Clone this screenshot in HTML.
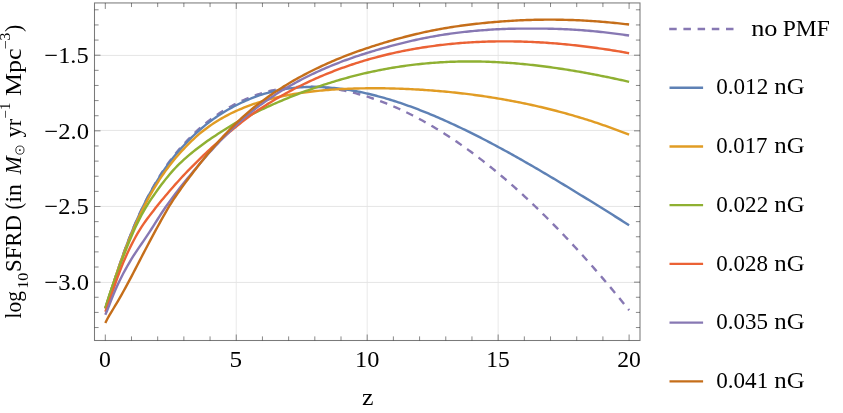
<!DOCTYPE html>
<html><head><meta charset="utf-8"><title>SFRD</title>
<style>
html,body{margin:0;padding:0;background:#fff;}
body{width:843px;height:413px;overflow:hidden;font-family:"Liberation Serif",serif;}
svg{display:block;will-change:transform}
.tx{filter:grayscale(1)}
text{font-family:"Liberation Serif",serif;fill:#000}
</style></head><body>
<svg width="843" height="413" viewBox="0 0 843 413">
<rect width="843" height="413" fill="#fff"/>

<line x1="236.25" y1="2.95" x2="236.25" y2="340.5" stroke="#e7e7e7" stroke-width="0.9"/>
<line x1="367.20" y1="2.95" x2="367.20" y2="340.5" stroke="#e7e7e7" stroke-width="0.9"/>
<line x1="498.15" y1="2.95" x2="498.15" y2="340.5" stroke="#e7e7e7" stroke-width="0.9"/>
<line x1="94.5" y1="55.45" x2="640.0" y2="55.45" stroke="#e2e2e2" stroke-width="0.9"/>
<line x1="94.5" y1="130.45" x2="640.0" y2="130.45" stroke="#e2e2e2" stroke-width="0.9"/>
<line x1="94.5" y1="206.45" x2="640.0" y2="206.45" stroke="#e2e2e2" stroke-width="0.9"/>
<line x1="94.5" y1="282.45" x2="640.0" y2="282.45" stroke="#e2e2e2" stroke-width="0.9"/>
<clipPath id="c"><rect x="94.5" y="2.95" width="545.5" height="337.55"/></clipPath><g clip-path="url(#c)" fill="none" stroke-width="2.4" stroke-linejoin="round">
<path d="M105.30,308.38 L107.31,302.26 L109.31,296.05 L111.32,289.82 L113.33,283.62 L115.33,277.48 L117.34,271.43 L119.35,265.50 L121.36,259.69 L123.36,254.02 L125.37,248.49 L127.38,243.11 L129.38,237.89 L131.39,232.81 L133.40,227.90 L135.40,223.14 L137.41,218.53 L139.42,214.07 L141.42,209.75 L143.43,205.57 L145.44,201.51 L147.44,197.58 L149.45,193.77 L151.46,190.07 L153.47,186.49 L155.47,183.01 L157.48,179.64 L159.49,176.37 L161.49,173.21 L163.50,170.14 L165.51,167.17 L167.51,164.28 L169.52,161.49 L171.53,158.79 L173.53,156.19 L175.54,153.68 L177.55,151.25 L179.56,148.90 L181.56,146.62 L183.57,144.39 L185.58,142.22 L187.58,140.10 L189.59,138.02 L191.60,135.99 L193.60,134.01 L195.61,132.09 L197.62,130.23 L199.62,128.42 L201.63,126.67 L203.64,124.97 L205.64,123.32 L207.65,121.72 L209.66,120.17 L211.67,118.66 L213.67,117.21 L215.68,115.79 L217.69,114.42 L219.69,113.09 L221.70,111.80 L223.71,110.55 L225.71,109.34 L227.72,108.17 L229.73,107.04 L231.73,105.94 L233.74,104.88 L235.75,103.85 L237.76,102.86 L239.76,101.89 L241.77,100.95 L243.78,100.03 L245.78,99.15 L247.79,98.29 L249.80,97.47 L251.80,96.67 L253.81,95.91 L255.82,95.18 L257.82,94.48 L259.83,93.83 L261.84,93.20 L263.84,92.61 L265.85,92.05 L267.86,91.52 L269.87,91.02 L271.87,90.54 L273.88,90.09 L275.89,89.67 L277.89,89.28 L279.90,88.91 L281.91,88.58 L283.91,88.27 L285.92,87.99 L287.93,87.73 L289.93,87.51 L291.94,87.31 L293.95,87.14 L295.96,87.00 L297.96,86.89 L299.97,86.81 L301.98,86.75 L303.98,86.71 L305.99,86.70 L308.00,86.71 L310.00,86.75 L312.01,86.81 L314.02,86.89 L316.02,86.99 L318.03,87.11 L320.04,87.26 L322.04,87.43 L324.05,87.62 L326.06,87.83 L328.07,88.06 L330.07,88.31 L332.08,88.59 L334.09,88.88 L336.09,89.20 L338.10,89.53 L340.11,89.89 L342.11,90.27 L344.12,90.66 L346.13,91.08 L348.13,91.52 L350.14,91.97 L352.15,92.45 L354.16,92.94 L356.16,93.46 L358.17,93.99 L360.18,94.54 L362.18,95.11 L364.19,95.70 L366.20,96.31 L368.20,96.94 L370.21,97.58 L372.22,98.25 L374.22,98.93 L376.23,99.63 L378.24,100.35 L380.24,101.09 L382.25,101.84 L384.26,102.61 L386.27,103.41 L388.27,104.21 L390.28,105.04 L392.29,105.88 L394.29,106.74 L396.30,107.62 L398.31,108.52 L400.31,109.43 L402.32,110.36 L404.33,111.30 L406.33,112.27 L408.34,113.24 L410.35,114.24 L412.36,115.25 L414.36,116.28 L416.37,117.33 L418.38,118.39 L420.38,119.47 L422.39,120.57 L424.40,121.68 L426.40,122.81 L428.41,123.95 L430.42,125.11 L432.42,126.28 L434.43,127.48 L436.44,128.68 L438.44,129.91 L440.45,131.15 L442.46,132.40 L444.47,133.67 L446.47,134.95 L448.48,136.26 L450.49,137.57 L452.49,138.90 L454.50,140.25 L456.51,141.61 L458.51,142.99 L460.52,144.38 L462.53,145.79 L464.53,147.21 L466.54,148.65 L468.55,150.10 L470.56,151.56 L472.56,153.05 L474.57,154.54 L476.58,156.05 L478.58,157.58 L480.59,159.12 L482.60,160.67 L484.60,162.24 L486.61,163.82 L488.62,165.42 L490.62,167.03 L492.63,168.66 L494.64,170.30 L496.64,171.95 L498.65,173.62 L500.66,175.30 L502.67,177.00 L504.67,178.71 L506.68,180.43 L508.69,182.17 L510.69,183.92 L512.70,185.69 L514.71,187.46 L516.71,189.26 L518.72,191.06 L520.73,192.88 L522.73,194.72 L524.74,196.56 L526.75,198.42 L528.76,200.30 L530.76,202.18 L532.77,204.08 L534.78,206.00 L536.78,207.92 L538.79,209.86 L540.80,211.82 L542.80,213.78 L544.81,215.76 L546.82,217.75 L548.82,219.76 L550.83,221.77 L552.84,223.80 L554.84,225.85 L556.85,227.90 L558.86,229.97 L560.87,232.06 L562.87,234.15 L564.88,236.26 L566.89,238.38 L568.89,240.51 L570.90,242.65 L572.91,244.81 L574.91,246.98 L576.92,249.16 L578.93,251.36 L580.93,253.56 L582.94,255.78 L584.95,258.01 L586.96,260.26 L588.96,262.51 L590.97,264.78 L592.98,267.06 L594.98,269.35 L596.99,271.66 L599.00,273.97 L601.00,276.30 L603.01,278.64 L605.02,280.99 L607.02,283.35 L609.03,285.73 L611.04,288.12 L613.04,290.52 L615.05,292.93 L617.06,295.35 L619.07,297.78 L621.07,300.23 L623.08,302.69 L625.09,305.16 L627.09,307.64 L629.10,310.13" stroke="#8778b3" stroke-dasharray="7.57 6.665"/>
<path d="M105.30,308.38 L107.31,302.19 L109.31,295.99 L111.32,289.80 L113.33,283.62 L115.33,277.50 L117.34,271.47 L119.35,265.53 L121.36,259.72 L123.36,254.05 L125.37,248.52 L127.38,243.14 L129.38,237.91 L131.39,232.85 L133.40,227.95 L135.40,223.21 L137.41,218.63 L139.42,214.20 L141.42,209.92 L143.43,205.78 L145.44,201.78 L147.44,197.90 L149.45,194.14 L151.46,190.50 L153.47,186.97 L155.47,183.56 L157.48,180.25 L159.49,177.04 L161.49,173.93 L163.50,170.93 L165.51,168.01 L167.51,165.19 L169.52,162.45 L171.53,159.81 L173.53,157.26 L175.54,154.80 L177.55,152.42 L179.56,150.12 L181.56,147.88 L183.57,145.70 L185.58,143.57 L187.58,141.49 L189.59,139.44 L191.60,137.44 L193.60,135.49 L195.61,133.60 L197.62,131.77 L199.62,129.99 L201.63,128.25 L203.64,126.57 L205.64,124.94 L207.65,123.35 L209.66,121.81 L211.67,120.32 L213.67,118.87 L215.68,117.46 L217.69,116.10 L219.69,114.77 L221.70,113.48 L223.71,112.23 L225.71,111.02 L227.72,109.84 L229.73,108.70 L231.73,107.59 L233.74,106.52 L235.75,105.49 L237.76,104.48 L239.76,103.50 L241.77,102.54 L243.78,101.61 L245.78,100.71 L247.79,99.83 L249.80,98.99 L251.80,98.17 L253.81,97.39 L255.82,96.63 L257.82,95.91 L259.83,95.22 L261.84,94.57 L263.84,93.95 L265.85,93.36 L267.86,92.79 L269.87,92.26 L271.87,91.74 L273.88,91.26 L275.89,90.80 L277.89,90.36 L279.90,89.96 L281.91,89.58 L283.91,89.22 L285.92,88.89 L287.93,88.59 L289.93,88.32 L291.94,88.07 L293.95,87.84 L295.96,87.65 L297.96,87.48 L299.97,87.33 L301.98,87.21 L303.98,87.11 L305.99,87.04 L308.00,86.98 L310.00,86.94 L312.01,86.93 L314.02,86.93 L316.02,86.95 L318.03,87.00 L320.04,87.06 L322.04,87.14 L324.05,87.24 L326.06,87.36 L328.07,87.50 L330.07,87.66 L332.08,87.83 L334.09,88.02 L336.09,88.23 L338.10,88.46 L340.11,88.70 L342.11,88.96 L344.12,89.24 L346.13,89.53 L348.13,89.84 L350.14,90.16 L352.15,90.50 L354.16,90.86 L356.16,91.23 L358.17,91.62 L360.18,92.03 L362.18,92.44 L364.19,92.88 L366.20,93.32 L368.20,93.78 L370.21,94.26 L372.22,94.75 L374.22,95.25 L376.23,95.77 L378.24,96.30 L380.24,96.84 L382.25,97.40 L384.26,97.97 L386.27,98.55 L388.27,99.15 L390.28,99.76 L392.29,100.38 L394.29,101.01 L396.30,101.65 L398.31,102.31 L400.31,102.98 L402.32,103.66 L404.33,104.35 L406.33,105.05 L408.34,105.76 L410.35,106.49 L412.36,107.22 L414.36,107.97 L416.37,108.72 L418.38,109.49 L420.38,110.27 L422.39,111.06 L424.40,111.85 L426.40,112.66 L428.41,113.48 L430.42,114.30 L432.42,115.14 L434.43,115.98 L436.44,116.84 L438.44,117.70 L440.45,118.57 L442.46,119.45 L444.47,120.34 L446.47,121.24 L448.48,122.14 L450.49,123.06 L452.49,123.98 L454.50,124.91 L456.51,125.85 L458.51,126.80 L460.52,127.75 L462.53,128.71 L464.53,129.68 L466.54,130.66 L468.55,131.64 L470.56,132.63 L472.56,133.63 L474.57,134.64 L476.58,135.65 L478.58,136.67 L480.59,137.69 L482.60,138.72 L484.60,139.76 L486.61,140.80 L488.62,141.85 L490.62,142.91 L492.63,143.97 L494.64,145.04 L496.64,146.11 L498.65,147.19 L500.66,148.28 L502.67,149.37 L504.67,150.46 L506.68,151.56 L508.69,152.67 L510.69,153.78 L512.70,154.90 L514.71,156.02 L516.71,157.14 L518.72,158.27 L520.73,159.41 L522.73,160.55 L524.74,161.69 L526.75,162.84 L528.76,163.99 L530.76,165.15 L532.77,166.31 L534.78,167.47 L536.78,168.64 L538.79,169.81 L540.80,170.98 L542.80,172.16 L544.81,173.35 L546.82,174.53 L548.82,175.72 L550.83,176.91 L552.84,178.11 L554.84,179.31 L556.85,180.51 L558.86,181.72 L560.87,182.92 L562.87,184.14 L564.88,185.35 L566.89,186.56 L568.89,187.78 L570.90,189.00 L572.91,190.23 L574.91,191.45 L576.92,192.68 L578.93,193.91 L580.93,195.15 L582.94,196.38 L584.95,197.62 L586.96,198.86 L588.96,200.10 L590.97,201.34 L592.98,202.58 L594.98,203.83 L596.99,205.08 L599.00,206.32 L601.00,207.57 L603.01,208.83 L605.02,210.08 L607.02,211.33 L609.03,212.59 L611.04,213.84 L613.04,215.10 L615.05,216.36 L617.06,217.62 L619.07,218.88 L621.07,220.14 L623.08,221.40 L625.09,222.67 L627.09,223.93 L629.10,225.19" stroke="#5e81b5"/>
<path d="M105.30,308.39 L107.31,302.17 L109.31,295.88 L111.32,289.61 L113.33,283.43 L115.33,277.37 L117.34,271.46 L119.35,265.69 L121.36,260.06 L123.36,254.59 L125.37,249.27 L127.38,244.09 L129.38,239.06 L131.39,234.17 L133.40,229.43 L135.40,224.81 L137.41,220.35 L139.42,216.03 L141.42,211.85 L143.43,207.80 L145.44,203.88 L147.44,200.09 L149.45,196.40 L151.46,192.83 L153.47,189.37 L155.47,186.03 L157.48,182.81 L159.49,179.68 L161.49,176.66 L163.50,173.74 L165.51,170.92 L167.51,168.18 L169.52,165.53 L171.53,162.96 L173.53,160.48 L175.54,158.06 L177.55,155.72 L179.56,153.44 L181.56,151.23 L183.57,149.08 L185.58,146.98 L187.58,144.93 L189.59,142.92 L191.60,140.96 L193.60,139.05 L195.61,137.20 L197.62,135.41 L199.62,133.70 L201.63,132.05 L203.64,130.47 L205.64,128.93 L207.65,127.45 L209.66,126.02 L211.67,124.63 L213.67,123.29 L215.68,122.00 L217.69,120.74 L219.69,119.53 L221.70,118.36 L223.71,117.23 L225.71,116.13 L227.72,115.07 L229.73,114.04 L231.73,113.04 L233.74,112.08 L235.75,111.15 L237.76,110.24 L239.76,109.37 L241.77,108.52 L243.78,107.70 L245.78,106.91 L247.79,106.14 L249.80,105.40 L251.80,104.68 L253.81,103.98 L255.82,103.31 L257.82,102.66 L259.83,102.03 L261.84,101.42 L263.84,100.83 L265.85,100.26 L267.86,99.71 L269.87,99.18 L271.87,98.67 L273.88,98.17 L275.89,97.68 L277.89,97.21 L279.90,96.76 L281.91,96.32 L283.91,95.89 L285.92,95.49 L287.93,95.09 L289.93,94.71 L291.94,94.34 L293.95,93.99 L295.96,93.66 L297.96,93.34 L299.97,93.03 L301.98,92.73 L303.98,92.46 L305.99,92.19 L308.00,91.94 L310.00,91.70 L312.01,91.46 L314.02,91.24 L316.02,91.03 L318.03,90.83 L320.04,90.63 L322.04,90.45 L324.05,90.27 L326.06,90.10 L328.07,89.94 L330.07,89.79 L332.08,89.65 L334.09,89.51 L336.09,89.38 L338.10,89.26 L340.11,89.15 L342.11,89.04 L344.12,88.94 L346.13,88.85 L348.13,88.77 L350.14,88.69 L352.15,88.62 L354.16,88.55 L356.16,88.50 L358.17,88.44 L360.18,88.40 L362.18,88.36 L364.19,88.33 L366.20,88.30 L368.20,88.28 L370.21,88.26 L372.22,88.26 L374.22,88.25 L376.23,88.25 L378.24,88.26 L380.24,88.28 L382.25,88.30 L384.26,88.32 L386.27,88.35 L388.27,88.39 L390.28,88.43 L392.29,88.48 L394.29,88.53 L396.30,88.59 L398.31,88.65 L400.31,88.72 L402.32,88.79 L404.33,88.87 L406.33,88.95 L408.34,89.04 L410.35,89.14 L412.36,89.24 L414.36,89.34 L416.37,89.45 L418.38,89.57 L420.38,89.69 L422.39,89.81 L424.40,89.94 L426.40,90.08 L428.41,90.22 L430.42,90.37 L432.42,90.52 L434.43,90.68 L436.44,90.84 L438.44,91.01 L440.45,91.18 L442.46,91.36 L444.47,91.54 L446.47,91.73 L448.48,91.93 L450.49,92.13 L452.49,92.33 L454.50,92.54 L456.51,92.76 L458.51,92.98 L460.52,93.20 L462.53,93.44 L464.53,93.67 L466.54,93.92 L468.55,94.17 L470.56,94.42 L472.56,94.68 L474.57,94.94 L476.58,95.22 L478.58,95.49 L480.59,95.77 L482.60,96.06 L484.60,96.36 L486.61,96.66 L488.62,96.96 L490.62,97.27 L492.63,97.59 L494.64,97.91 L496.64,98.24 L498.65,98.58 L500.66,98.92 L502.67,99.26 L504.67,99.62 L506.68,99.98 L508.69,100.34 L510.69,100.71 L512.70,101.09 L514.71,101.47 L516.71,101.86 L518.72,102.26 L520.73,102.66 L522.73,103.07 L524.74,103.48 L526.75,103.91 L528.76,104.33 L530.76,104.77 L532.77,105.21 L534.78,105.66 L536.78,106.11 L538.79,106.57 L540.80,107.04 L542.80,107.51 L544.81,107.99 L546.82,108.48 L548.82,108.98 L550.83,109.48 L552.84,109.99 L554.84,110.50 L556.85,111.02 L558.86,111.55 L560.87,112.09 L562.87,112.63 L564.88,113.18 L566.89,113.74 L568.89,114.30 L570.90,114.87 L572.91,115.45 L574.91,116.04 L576.92,116.63 L578.93,117.23 L580.93,117.84 L582.94,118.45 L584.95,119.07 L586.96,119.70 L588.96,120.34 L590.97,120.98 L592.98,121.64 L594.98,122.30 L596.99,122.96 L599.00,123.64 L601.00,124.32 L603.01,125.01 L605.02,125.71 L607.02,126.42 L609.03,127.13 L611.04,127.85 L613.04,128.58 L615.05,129.32 L617.06,130.06 L619.07,130.82 L621.07,131.58 L623.08,132.35 L625.09,133.12 L627.09,133.91 L629.10,134.70" stroke="#e19c24"/>
<path d="M105.30,308.43 L107.31,301.39 L109.31,295.15 L111.32,289.30 L113.33,283.63 L115.33,278.06 L117.34,272.55 L119.35,267.10 L121.36,261.72 L123.36,256.43 L125.37,251.24 L127.38,246.18 L129.38,241.26 L131.39,236.48 L133.40,231.85 L135.40,227.38 L137.41,223.13 L139.42,219.10 L141.42,215.27 L143.43,211.64 L145.44,208.19 L147.44,204.89 L149.45,201.73 L151.46,198.69 L153.47,195.74 L155.47,192.87 L157.48,190.07 L159.49,187.30 L161.49,184.58 L163.50,181.94 L165.51,179.37 L167.51,176.88 L169.52,174.47 L171.53,172.15 L173.53,169.91 L175.54,167.76 L177.55,165.70 L179.56,163.72 L181.56,161.81 L183.57,159.95 L185.58,158.14 L187.58,156.39 L189.59,154.67 L191.60,153.00 L193.60,151.37 L195.61,149.77 L197.62,148.21 L199.62,146.68 L201.63,145.18 L203.64,143.71 L205.64,142.26 L207.65,140.84 L209.66,139.45 L211.67,138.08 L213.67,136.73 L215.68,135.40 L217.69,134.09 L219.69,132.80 L221.70,131.53 L223.71,130.27 L225.71,129.00 L227.72,127.73 L229.73,126.48 L231.73,125.24 L233.74,124.02 L235.75,122.83 L237.76,121.69 L239.76,120.59 L241.77,119.52 L243.78,118.47 L245.78,117.43 L247.79,116.40 L249.80,115.38 L251.80,114.37 L253.81,113.38 L255.82,112.40 L257.82,111.42 L259.83,110.46 L261.84,109.51 L263.84,108.57 L265.85,107.63 L267.86,106.71 L269.87,105.80 L271.87,104.90 L273.88,104.00 L275.89,103.12 L277.89,102.25 L279.90,101.38 L281.91,100.53 L283.91,99.68 L285.92,98.85 L287.93,98.02 L289.93,97.20 L291.94,96.39 L293.95,95.59 L295.96,94.80 L297.96,94.02 L299.97,93.25 L301.98,92.49 L303.98,91.74 L305.99,90.99 L308.00,90.26 L310.00,89.53 L312.01,88.81 L314.02,88.11 L316.02,87.41 L318.03,86.72 L320.04,86.04 L322.04,85.37 L324.05,84.71 L326.06,84.06 L328.07,83.41 L330.07,82.78 L332.08,82.16 L334.09,81.54 L336.09,80.94 L338.10,80.34 L340.11,79.75 L342.11,79.18 L344.12,78.61 L346.13,78.05 L348.13,77.50 L350.14,76.96 L352.15,76.43 L354.16,75.91 L356.16,75.40 L358.17,74.90 L360.18,74.40 L362.18,73.92 L364.19,73.45 L366.20,72.98 L368.20,72.53 L370.21,72.08 L372.22,71.65 L374.22,71.22 L376.23,70.80 L378.24,70.40 L380.24,70.00 L382.25,69.61 L384.26,69.23 L386.27,68.86 L388.27,68.50 L390.28,68.15 L392.29,67.80 L394.29,67.47 L396.30,67.15 L398.31,66.83 L400.31,66.53 L402.32,66.23 L404.33,65.95 L406.33,65.67 L408.34,65.40 L410.35,65.14 L412.36,64.89 L414.36,64.65 L416.37,64.42 L418.38,64.19 L420.38,63.98 L422.39,63.77 L424.40,63.58 L426.40,63.39 L428.41,63.21 L430.42,63.04 L432.42,62.88 L434.43,62.73 L436.44,62.59 L438.44,62.45 L440.45,62.32 L442.46,62.21 L444.47,62.10 L446.47,62.00 L448.48,61.91 L450.49,61.82 L452.49,61.75 L454.50,61.68 L456.51,61.62 L458.51,61.57 L460.52,61.53 L462.53,61.49 L464.53,61.47 L466.54,61.45 L468.55,61.44 L470.56,61.44 L472.56,61.45 L474.57,61.46 L476.58,61.48 L478.58,61.51 L480.59,61.55 L482.60,61.59 L484.60,61.64 L486.61,61.70 L488.62,61.77 L490.62,61.85 L492.63,61.93 L494.64,62.02 L496.64,62.12 L498.65,62.22 L500.66,62.33 L502.67,62.45 L504.67,62.58 L506.68,62.71 L508.69,62.85 L510.69,63.00 L512.70,63.15 L514.71,63.31 L516.71,63.48 L518.72,63.65 L520.73,63.83 L522.73,64.02 L524.74,64.21 L526.75,64.41 L528.76,64.62 L530.76,64.83 L532.77,65.05 L534.78,65.27 L536.78,65.51 L538.79,65.74 L540.80,65.99 L542.80,66.24 L544.81,66.49 L546.82,66.75 L548.82,67.02 L550.83,67.29 L552.84,67.57 L554.84,67.86 L556.85,68.15 L558.86,68.44 L560.87,68.74 L562.87,69.05 L564.88,69.36 L566.89,69.68 L568.89,70.00 L570.90,70.33 L572.91,70.66 L574.91,71.00 L576.92,71.34 L578.93,71.69 L580.93,72.04 L582.94,72.39 L584.95,72.76 L586.96,73.12 L588.96,73.49 L590.97,73.87 L592.98,74.25 L594.98,74.63 L596.99,75.02 L599.00,75.42 L601.00,75.81 L603.01,76.22 L605.02,76.62 L607.02,77.03 L609.03,77.45 L611.04,77.86 L613.04,78.29 L615.05,78.71 L617.06,79.14 L619.07,79.58 L621.07,80.01 L623.08,80.45 L625.09,80.90 L627.09,81.35 L629.10,81.80" stroke="#8fb032"/>
<path d="M105.30,311.80 L107.31,306.93 L109.31,301.30 L111.32,295.38 L113.33,289.43 L115.33,283.58 L117.34,277.93 L119.35,272.51 L121.36,267.33 L123.36,262.40 L125.37,257.71 L127.38,253.24 L129.38,248.97 L131.39,244.90 L133.40,241.00 L135.40,237.27 L137.41,233.70 L139.42,230.34 L141.42,227.18 L143.43,224.17 L145.44,221.30 L147.44,218.54 L149.45,215.86 L151.46,213.24 L153.47,210.66 L155.47,208.09 L157.48,205.54 L159.49,203.05 L161.49,200.60 L163.50,198.19 L165.51,195.81 L167.51,193.44 L169.52,191.09 L171.53,188.75 L173.53,186.44 L175.54,184.17 L177.55,181.93 L179.56,179.72 L181.56,177.54 L183.57,175.39 L185.58,173.27 L187.58,171.18 L189.59,169.11 L191.60,167.07 L193.60,165.05 L195.61,163.04 L197.62,161.05 L199.62,159.09 L201.63,157.14 L203.64,155.22 L205.64,153.32 L207.65,151.44 L209.66,149.57 L211.67,147.72 L213.67,145.88 L215.68,144.07 L217.69,142.27 L219.69,140.49 L221.70,138.73 L223.71,136.99 L225.71,135.27 L227.72,133.58 L229.73,131.90 L231.73,130.25 L233.74,128.60 L235.75,126.97 L237.76,125.35 L239.76,123.74 L241.77,122.15 L243.78,120.58 L245.78,119.03 L247.79,117.51 L249.80,116.01 L251.80,114.54 L253.81,113.10 L255.82,111.70 L257.82,110.33 L259.83,109.00 L261.84,107.70 L263.84,106.41 L265.85,105.14 L267.86,103.89 L269.87,102.66 L271.87,101.44 L273.88,100.23 L275.89,99.05 L277.89,97.88 L279.90,96.72 L281.91,95.58 L283.91,94.46 L285.92,93.35 L287.93,92.25 L289.93,91.17 L291.94,90.11 L293.95,89.06 L295.96,88.02 L297.96,87.00 L299.97,86.00 L301.98,85.01 L303.98,84.03 L305.99,83.06 L308.00,82.11 L310.00,81.18 L312.01,80.26 L314.02,79.35 L316.02,78.45 L318.03,77.57 L320.04,76.70 L322.04,75.84 L324.05,75.00 L326.06,74.17 L328.07,73.35 L330.07,72.55 L332.08,71.76 L334.09,70.98 L336.09,70.21 L338.10,69.45 L340.11,68.71 L342.11,67.98 L344.12,67.26 L346.13,66.55 L348.13,65.85 L350.14,65.17 L352.15,64.50 L354.16,63.84 L356.16,63.19 L358.17,62.55 L360.18,61.92 L362.18,61.30 L364.19,60.70 L366.20,60.10 L368.20,59.52 L370.21,58.95 L372.22,58.38 L374.22,57.83 L376.23,57.29 L378.24,56.76 L380.24,56.24 L382.25,55.73 L384.26,55.23 L386.27,54.74 L388.27,54.26 L390.28,53.79 L392.29,53.33 L394.29,52.88 L396.30,52.44 L398.31,52.00 L400.31,51.58 L402.32,51.17 L404.33,50.77 L406.33,50.38 L408.34,49.99 L410.35,49.62 L412.36,49.25 L414.36,48.89 L416.37,48.55 L418.38,48.21 L420.38,47.88 L422.39,47.56 L424.40,47.25 L426.40,46.94 L428.41,46.65 L430.42,46.36 L432.42,46.09 L434.43,45.82 L436.44,45.56 L438.44,45.30 L440.45,45.06 L442.46,44.82 L444.47,44.60 L446.47,44.38 L448.48,44.17 L450.49,43.96 L452.49,43.77 L454.50,43.58 L456.51,43.40 L458.51,43.23 L460.52,43.07 L462.53,42.91 L464.53,42.77 L466.54,42.62 L468.55,42.49 L470.56,42.37 L472.56,42.25 L474.57,42.14 L476.58,42.04 L478.58,41.94 L480.59,41.85 L482.60,41.77 L484.60,41.70 L486.61,41.63 L488.62,41.57 L490.62,41.52 L492.63,41.48 L494.64,41.44 L496.64,41.41 L498.65,41.38 L500.66,41.37 L502.67,41.36 L504.67,41.35 L506.68,41.36 L508.69,41.37 L510.69,41.38 L512.70,41.41 L514.71,41.44 L516.71,41.48 L518.72,41.52 L520.73,41.57 L522.73,41.63 L524.74,41.69 L526.75,41.76 L528.76,41.84 L530.76,41.92 L532.77,42.01 L534.78,42.10 L536.78,42.20 L538.79,42.31 L540.80,42.43 L542.80,42.55 L544.81,42.67 L546.82,42.81 L548.82,42.94 L550.83,43.09 L552.84,43.24 L554.84,43.40 L556.85,43.56 L558.86,43.73 L560.87,43.90 L562.87,44.08 L564.88,44.27 L566.89,44.46 L568.89,44.66 L570.90,44.86 L572.91,45.07 L574.91,45.29 L576.92,45.51 L578.93,45.74 L580.93,45.97 L582.94,46.21 L584.95,46.45 L586.96,46.70 L588.96,46.96 L590.97,47.22 L592.98,47.48 L594.98,47.76 L596.99,48.03 L599.00,48.32 L601.00,48.61 L603.01,48.90 L605.02,49.20 L607.02,49.50 L609.03,49.81 L611.04,50.13 L613.04,50.45 L615.05,50.77 L617.06,51.10 L619.07,51.44 L621.07,51.78 L623.08,52.13 L625.09,52.48 L627.09,52.84 L629.10,53.20" stroke="#eb6235"/>
<path d="M105.30,314.83 L107.31,310.18 L109.31,305.06 L111.32,299.88 L113.33,294.85 L115.33,290.06 L117.34,285.52 L119.35,281.23 L121.36,277.17 L123.36,273.30 L125.37,269.59 L127.38,266.02 L129.38,262.56 L131.39,259.19 L133.40,255.96 L135.40,252.86 L137.41,249.85 L139.42,246.90 L141.42,243.99 L143.43,241.08 L145.44,238.15 L147.44,235.16 L149.45,232.11 L151.46,229.00 L153.47,225.85 L155.47,222.68 L157.48,219.51 L159.49,216.37 L161.49,213.27 L163.50,210.24 L165.51,207.29 L167.51,204.44 L169.52,201.65 L171.53,198.91 L173.53,196.22 L175.54,193.57 L177.55,190.95 L179.56,188.35 L181.56,185.77 L183.57,183.25 L185.58,180.77 L187.58,178.32 L189.59,175.90 L191.60,173.50 L193.60,171.10 L195.61,168.69 L197.62,166.28 L199.62,163.88 L201.63,161.51 L203.64,159.17 L205.64,156.86 L207.65,154.57 L209.66,152.31 L211.67,150.09 L213.67,147.89 L215.68,145.72 L217.69,143.58 L219.69,141.48 L221.70,139.40 L223.71,137.35 L225.71,135.33 L227.72,133.35 L229.73,131.36 L231.73,129.39 L233.74,127.44 L235.75,125.52 L237.76,123.64 L239.76,121.81 L241.77,120.02 L243.78,118.27 L245.78,116.55 L247.79,114.85 L249.80,113.19 L251.80,111.56 L253.81,109.96 L255.82,108.40 L257.82,106.87 L259.83,105.38 L261.84,103.92 L263.84,102.48 L265.85,101.07 L267.86,99.68 L269.87,98.32 L271.87,96.97 L273.88,95.65 L275.89,94.35 L277.89,93.07 L279.90,91.82 L281.91,90.58 L283.91,89.37 L285.92,88.17 L287.93,87.00 L289.93,85.84 L291.94,84.70 L293.95,83.58 L295.96,82.48 L297.96,81.40 L299.97,80.33 L301.98,79.28 L303.98,78.25 L305.99,77.23 L308.00,76.24 L310.00,75.25 L312.01,74.29 L314.02,73.33 L316.02,72.40 L318.03,71.48 L320.04,70.57 L322.04,69.68 L324.05,68.80 L326.06,67.93 L328.07,67.08 L330.07,66.25 L332.08,65.42 L334.09,64.61 L336.09,63.81 L338.10,63.03 L340.11,62.25 L342.11,61.49 L344.12,60.74 L346.13,60.00 L348.13,59.28 L350.14,58.56 L352.15,57.86 L354.16,57.16 L356.16,56.48 L358.17,55.81 L360.18,55.15 L362.18,54.50 L364.19,53.86 L366.20,53.23 L368.20,52.61 L370.21,51.99 L372.22,51.38 L374.22,50.78 L376.23,50.19 L378.24,49.60 L380.24,49.02 L382.25,48.44 L384.26,47.87 L386.27,47.31 L388.27,46.76 L390.28,46.21 L392.29,45.67 L394.29,45.14 L396.30,44.61 L398.31,44.09 L400.31,43.58 L402.32,43.08 L404.33,42.58 L406.33,42.10 L408.34,41.62 L410.35,41.15 L412.36,40.69 L414.36,40.23 L416.37,39.79 L418.38,39.35 L420.38,38.92 L422.39,38.51 L424.40,38.10 L426.40,37.70 L428.41,37.31 L430.42,36.93 L432.42,36.56 L434.43,36.20 L436.44,35.85 L438.44,35.51 L440.45,35.18 L442.46,34.86 L444.47,34.55 L446.47,34.25 L448.48,33.95 L450.49,33.67 L452.49,33.40 L454.50,33.13 L456.51,32.87 L458.51,32.62 L460.52,32.38 L462.53,32.15 L464.53,31.92 L466.54,31.71 L468.55,31.50 L470.56,31.30 L472.56,31.10 L474.57,30.91 L476.58,30.73 L478.58,30.56 L480.59,30.40 L482.60,30.24 L484.60,30.08 L486.61,29.94 L488.62,29.80 L490.62,29.67 L492.63,29.54 L494.64,29.42 L496.64,29.31 L498.65,29.20 L500.66,29.10 L502.67,29.01 L504.67,28.94 L506.68,28.87 L508.69,28.81 L510.69,28.76 L512.70,28.72 L514.71,28.68 L516.71,28.65 L518.72,28.63 L520.73,28.61 L522.73,28.60 L524.74,28.59 L526.75,28.58 L528.76,28.58 L530.76,28.58 L532.77,28.59 L534.78,28.59 L536.78,28.60 L538.79,28.61 L540.80,28.61 L542.80,28.63 L544.81,28.65 L546.82,28.67 L548.82,28.71 L550.83,28.75 L552.84,28.79 L554.84,28.85 L556.85,28.90 L558.86,28.97 L560.87,29.04 L562.87,29.12 L564.88,29.21 L566.89,29.30 L568.89,29.40 L570.90,29.51 L572.91,29.62 L574.91,29.74 L576.92,29.87 L578.93,30.01 L580.93,30.15 L582.94,30.30 L584.95,30.46 L586.96,30.62 L588.96,30.79 L590.97,30.97 L592.98,31.15 L594.98,31.34 L596.99,31.54 L599.00,31.74 L601.00,31.94 L603.01,32.16 L605.02,32.38 L607.02,32.60 L609.03,32.83 L611.04,33.07 L613.04,33.32 L615.05,33.57 L617.06,33.83 L619.07,34.09 L621.07,34.37 L623.08,34.65 L625.09,34.94 L627.09,35.23 L629.10,35.54" stroke="#8778b3"/>
<path d="M105.30,323.01 L107.31,319.03 L109.31,315.45 L111.32,312.06 L113.33,308.75 L115.33,305.43 L117.34,302.07 L119.35,298.64 L121.36,295.13 L123.36,291.54 L125.37,287.89 L127.38,284.17 L129.38,280.40 L131.39,276.58 L133.40,272.74 L135.40,268.87 L137.41,264.99 L139.42,261.11 L141.42,257.23 L143.43,253.36 L145.44,249.51 L147.44,245.69 L149.45,241.89 L151.46,238.13 L153.47,234.40 L155.47,230.69 L157.48,226.98 L159.49,223.30 L161.49,219.66 L163.50,216.07 L165.51,212.54 L167.51,209.09 L169.52,205.73 L171.53,202.53 L173.53,199.46 L175.54,196.49 L177.55,193.60 L179.56,190.74 L181.56,187.89 L183.57,185.09 L185.58,182.35 L187.58,179.66 L189.59,177.01 L191.60,174.40 L193.60,171.80 L195.61,169.21 L197.62,166.62 L199.62,164.04 L201.63,161.49 L203.64,158.98 L205.64,156.51 L207.65,154.08 L209.66,151.68 L211.67,149.32 L213.67,147.00 L215.68,144.72 L217.69,142.47 L219.69,140.26 L221.70,138.08 L223.71,135.94 L225.71,133.84 L227.72,131.76 L229.73,129.70 L231.73,127.65 L233.74,125.62 L235.75,123.63 L237.76,121.68 L239.76,119.78 L241.77,117.94 L243.78,116.12 L245.78,114.34 L247.79,112.59 L249.80,110.87 L251.80,109.19 L253.81,107.54 L255.82,105.93 L257.82,104.36 L259.83,102.83 L261.84,101.34 L263.84,99.86 L265.85,98.42 L267.86,96.99 L269.87,95.59 L271.87,94.21 L273.88,92.85 L275.89,91.52 L277.89,90.20 L279.90,88.91 L281.91,87.64 L283.91,86.39 L285.92,85.15 L287.93,83.94 L289.93,82.74 L291.94,81.57 L293.95,80.41 L295.96,79.27 L297.96,78.15 L299.97,77.04 L301.98,75.95 L303.98,74.88 L305.99,73.82 L308.00,72.78 L310.00,71.75 L312.01,70.74 L314.02,69.75 L316.02,68.77 L318.03,67.80 L320.04,66.85 L322.04,65.91 L324.05,64.99 L326.06,64.08 L328.07,63.18 L330.07,62.30 L332.08,61.43 L334.09,60.57 L336.09,59.73 L338.10,58.89 L340.11,58.07 L342.11,57.26 L344.12,56.47 L346.13,55.68 L348.13,54.91 L350.14,54.15 L352.15,53.39 L354.16,52.65 L356.16,51.92 L358.17,51.21 L360.18,50.50 L362.18,49.80 L364.19,49.11 L366.20,48.43 L368.20,47.77 L370.21,47.11 L372.22,46.45 L374.22,45.81 L376.23,45.17 L378.24,44.54 L380.24,43.91 L382.25,43.30 L384.26,42.69 L386.27,42.09 L388.27,41.49 L390.28,40.91 L392.29,40.33 L394.29,39.76 L396.30,39.20 L398.31,38.64 L400.31,38.10 L402.32,37.56 L404.33,37.03 L406.33,36.51 L408.34,36.00 L410.35,35.49 L412.36,34.99 L414.36,34.51 L416.37,34.03 L418.38,33.56 L420.38,33.10 L422.39,32.64 L424.40,32.20 L426.40,31.77 L428.41,31.34 L430.42,30.93 L432.42,30.52 L434.43,30.13 L436.44,29.74 L438.44,29.36 L440.45,28.99 L442.46,28.64 L444.47,28.29 L446.47,27.95 L448.48,27.62 L450.49,27.29 L452.49,26.98 L454.50,26.67 L456.51,26.37 L458.51,26.08 L460.52,25.80 L462.53,25.52 L464.53,25.25 L466.54,24.99 L468.55,24.74 L470.56,24.49 L472.56,24.25 L474.57,24.01 L476.58,23.79 L478.58,23.57 L480.59,23.35 L482.60,23.14 L484.60,22.94 L486.61,22.75 L488.62,22.56 L490.62,22.37 L492.63,22.19 L494.64,22.02 L496.64,21.85 L498.65,21.69 L500.66,21.53 L502.67,21.38 L504.67,21.24 L506.68,21.10 L508.69,20.97 L510.69,20.84 L512.70,20.72 L514.71,20.61 L516.71,20.50 L518.72,20.40 L520.73,20.31 L522.73,20.22 L524.74,20.14 L526.75,20.06 L528.76,19.99 L530.76,19.93 L532.77,19.87 L534.78,19.82 L536.78,19.78 L538.79,19.74 L540.80,19.71 L542.80,19.69 L544.81,19.67 L546.82,19.66 L548.82,19.65 L550.83,19.65 L552.84,19.66 L554.84,19.67 L556.85,19.69 L558.86,19.72 L560.87,19.75 L562.87,19.79 L564.88,19.83 L566.89,19.88 L568.89,19.94 L570.90,20.00 L572.91,20.07 L574.91,20.15 L576.92,20.23 L578.93,20.32 L580.93,20.42 L582.94,20.52 L584.95,20.62 L586.96,20.74 L588.96,20.86 L590.97,20.98 L592.98,21.11 L594.98,21.25 L596.99,21.40 L599.00,21.55 L601.00,21.70 L603.01,21.87 L605.02,22.04 L607.02,22.21 L609.03,22.39 L611.04,22.58 L613.04,22.78 L615.05,22.98 L617.06,23.18 L619.07,23.40 L621.07,23.62 L623.08,23.84 L625.09,24.07 L627.09,24.31 L629.10,24.56" stroke="#c56e1a"/>
</g>
<rect x="94.5" y="2.95" width="545.5" height="337.55" fill="none" stroke="#7a7a7a" stroke-width="1.05"/>
<path d="M105.30,340.5v-6.0M105.30,2.95v6.0M131.49,340.5v-4.1M131.49,2.95v4.1M157.68,340.5v-4.1M157.68,2.95v4.1M183.87,340.5v-4.1M183.87,2.95v4.1M210.06,340.5v-4.1M210.06,2.95v4.1M236.25,340.5v-6.0M236.25,2.95v6.0M262.44,340.5v-4.1M262.44,2.95v4.1M288.63,340.5v-4.1M288.63,2.95v4.1M314.82,340.5v-4.1M314.82,2.95v4.1M341.01,340.5v-4.1M341.01,2.95v4.1M367.20,340.5v-6.0M367.20,2.95v6.0M393.39,340.5v-4.1M393.39,2.95v4.1M419.58,340.5v-4.1M419.58,2.95v4.1M445.77,340.5v-4.1M445.77,2.95v4.1M471.96,340.5v-4.1M471.96,2.95v4.1M498.15,340.5v-6.0M498.15,2.95v6.0M524.34,340.5v-4.1M524.34,2.95v4.1M550.53,340.5v-4.1M550.53,2.95v4.1M576.72,340.5v-4.1M576.72,2.95v4.1M602.91,340.5v-4.1M602.91,2.95v4.1M629.10,340.5v-6.0M629.10,2.95v6.0M94.5,9.81h4.1M640.0,9.81h-4.1M94.5,24.94h4.1M640.0,24.94h-4.1M94.5,40.07h4.1M640.0,40.07h-4.1M94.5,55.20h6.0M640.0,55.20h-6.0M94.5,70.33h4.1M640.0,70.33h-4.1M94.5,85.46h4.1M640.0,85.46h-4.1M94.5,100.59h4.1M640.0,100.59h-4.1M94.5,115.72h4.1M640.0,115.72h-4.1M94.5,130.85h6.0M640.0,130.85h-6.0M94.5,145.98h4.1M640.0,145.98h-4.1M94.5,161.11h4.1M640.0,161.11h-4.1M94.5,176.24h4.1M640.0,176.24h-4.1M94.5,191.37h4.1M640.0,191.37h-4.1M94.5,206.50h6.0M640.0,206.50h-6.0M94.5,221.63h4.1M640.0,221.63h-4.1M94.5,236.76h4.1M640.0,236.76h-4.1M94.5,251.89h4.1M640.0,251.89h-4.1M94.5,267.02h4.1M640.0,267.02h-4.1M94.5,282.15h6.0M640.0,282.15h-6.0M94.5,297.28h4.1M640.0,297.28h-4.1M94.5,312.41h4.1M640.0,312.41h-4.1M94.5,327.54h4.1M640.0,327.54h-4.1" stroke="#262626" stroke-width="0.55" fill="none"/>
<g class="tx">
<text transform="translate(44.36,62.90) scale(1.0350,1)" font-size="23.6">−1.5</text>
<text transform="translate(44.34,138.55) scale(1.0448,1)" font-size="23.6">−2.0</text>
<text transform="translate(44.36,214.20) scale(1.0350,1)" font-size="23.6">−2.5</text>
<text transform="translate(44.34,289.85) scale(1.0448,1)" font-size="23.6">−3.0</text>
<text transform="translate(99.06,366.80) scale(1.0073,1)" font-size="23.6">0</text>
<text transform="translate(229.52,366.80) scale(1.0647,1)" font-size="23.6">5</text>
<text transform="translate(355.10,366.80) scale(1.0324,1)" font-size="23.6">10</text>
<text transform="translate(486.37,366.80) scale(0.9944,1)" font-size="23.6">15</text>
<text transform="translate(617.26,366.80) scale(1.0034,1)" font-size="23.6">20</text>
<text transform="translate(361.90,404.50) scale(1.0952,1)" font-size="23.6">z</text>
<text transform="translate(751.19,35.90) scale(1.1159,1)" font-size="23.6">no</text>
<text transform="translate(782.63,35.90) scale(0.9983,1)" font-size="23.6">PMF</text>
<text transform="translate(716.18,94.34) scale(0.9813,1)" font-size="23.6">0.012</text>
<text transform="translate(774.31,94.34) scale(1.0526,1)" font-size="23.6">nG</text>
<text transform="translate(716.19,153.08) scale(0.9674,1)" font-size="23.6">0.017</text>
<text transform="translate(774.31,153.08) scale(1.0526,1)" font-size="23.6">nG</text>
<text transform="translate(716.18,211.82) scale(0.9813,1)" font-size="23.6">0.022</text>
<text transform="translate(774.31,211.82) scale(1.0526,1)" font-size="23.6">nG</text>
<text transform="translate(716.18,270.56) scale(0.9743,1)" font-size="23.6">0.028</text>
<text transform="translate(774.31,270.56) scale(1.0526,1)" font-size="23.6">nG</text>
<text transform="translate(716.18,329.30) scale(0.9743,1)" font-size="23.6">0.035</text>
<text transform="translate(774.31,329.30) scale(1.0526,1)" font-size="23.6">nG</text>
<text transform="translate(716.18,388.04) scale(0.9813,1)" font-size="23.6">0.041</text>
<text transform="translate(774.31,388.04) scale(1.0526,1)" font-size="23.6">nG</text>
</g>
<g class="tx" transform="rotate(-90)">
<text transform="translate(-318.44,21.00) scale(0.9110,1)" font-size="23.6">log</text>
<text transform="translate(-288.86,27.60) scale(1.1307,1)" font-size="14.3">10</text>
<text transform="translate(-272.02,21.00) scale(0.9658,1)" font-size="23.6">SFRD</text>
<text transform="translate(-209.53,21.00) scale(0.8588,1)" font-size="23.6">(</text>
<text transform="translate(-202.57,21.00) scale(1.0062,1)" font-size="23.6">in</text>
<text transform="translate(-174.16,21.00) scale(0.9211,1)" font-size="23.6" font-style="italic">M</text>
<text transform="translate(-137.50,21.00) scale(0.9619,1)" font-size="23.6">yr</text>
<text transform="translate(-118.40,9.90) scale(1.0830,1)" font-size="13.8">−1</text>
<text transform="translate(-96.11,21.00) scale(1.0998,1)" font-size="23.6">Mpc</text>
<text transform="translate(-49.34,9.90) scale(1.1467,1)" font-size="13.8">−3</text>
<text transform="translate(-31.98,21.00) scale(0.9252,1)" font-size="23.6">)</text>
</g>
<circle cx="19.9" cy="150.1" r="4.1" fill="none" stroke="#000" stroke-width="0.8"/><circle cx="19.9" cy="150.1" r="0.9" fill="#000"/>
<line x1="669.2" y1="28.95" x2="733.6" y2="28.95" stroke="#8778b3" stroke-width="2.4" stroke-dasharray="7.5 6.7"/>
<line x1="669.5" y1="87.69" x2="703.1" y2="87.69" stroke="#5e81b5" stroke-width="2.4"/>
<line x1="669.5" y1="146.43" x2="703.1" y2="146.43" stroke="#e19c24" stroke-width="2.4"/>
<line x1="669.5" y1="205.17" x2="703.1" y2="205.17" stroke="#8fb032" stroke-width="2.4"/>
<line x1="669.5" y1="263.91" x2="703.1" y2="263.91" stroke="#eb6235" stroke-width="2.4"/>
<line x1="669.5" y1="322.65" x2="703.1" y2="322.65" stroke="#8778b3" stroke-width="2.4"/>
<line x1="669.5" y1="381.39" x2="703.1" y2="381.39" stroke="#c56e1a" stroke-width="2.4"/>
</svg></body></html>
